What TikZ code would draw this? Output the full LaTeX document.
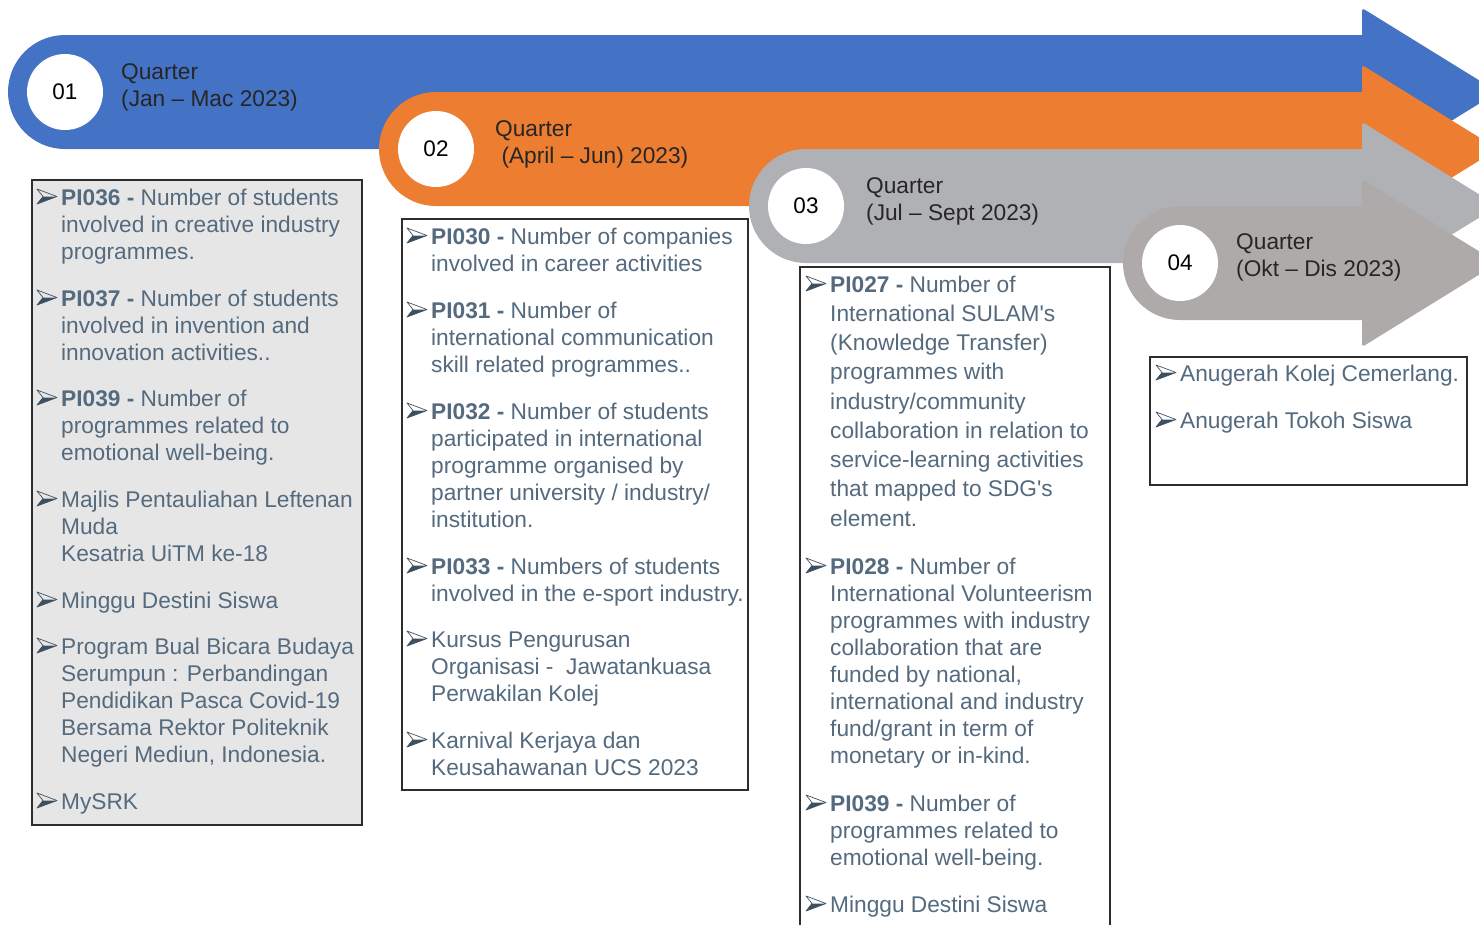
\documentclass[tikz,border=0pt]{standalone}
\usepackage{fontspec}
\setmainfont{Liberation Sans}
\definecolor{qblue}{RGB}{68,114,196}
\definecolor{qorange}{RGB}{237,125,49}
\definecolor{qgrayA}{RGB}{176,177,181}
\definecolor{qgrayB}{RGB}{174,170,169}
\definecolor{itemc}{RGB}{84,106,126}
\definecolor{bulc}{RGB}{62,80,96}
\definecolor{titlec}{RGB}{38,38,38}
\definecolor{boxfill}{RGB}{231,230,230}
\definecolor{boxline}{RGB}{45,45,45}
\newcommand{\ml}[1]{\begin{tabular}[t]{@{}l@{}}#1\end{tabular}}
\newcommand{\apos}{\textquotesingle}
\newcommand{\bulshape}[2]{% x, baseline
  \fill[bulc] (#1+6,#2-8.5) -- (#1+20,#2-8.5) -- (#1,#2-1) -- cycle;
  \draw[bulc,line width=0.7pt,line join=round] (#1+20,#2-8.5) -- (#1,#2-16) -- (#1+6,#2-8.5) -- (#1,#2-1) -- cycle;}
\newcommand{\bitem}[5]{% name, bulletx, textx, y, text
  \bulshape{#2}{#4}
  \node[itm] (#1) at (#3,#4) {\ml{#5}};}
\newcommand{\qarrow}[4]{% name, color, cx, cy
  \fill[#2] (#3,#4-57) -- (1362,#4-57)
    [rounded corners=3pt] -- (1362,#4-84) -- (1498,#4) -- (1362,#4+84)
    [sharp corners] -- (1362,#4+57) -- (#3,#4+57)
    arc[start angle=90,end angle=270,radius=57] -- cycle;
  \node[qcirc] (#1) at (#3,#4) {};}
\tikzset{
  qcirc/.style={circle,fill=white,minimum size=76pt,inner sep=0pt},
  qnum/.style={font=\fontsize{22.5}{26}\selectfont,text=black},
  qtitle/.style={anchor=base west,inner sep=0pt,text=titlec,font=\fontsize{22.7}{27}\selectfont},
  itm/.style={anchor=base west,inner sep=0pt,text=itemc,font=\fontsize{22.7}{27}\selectfont},
  itmwide/.style={itm,font=\fontsize{22.7}{29.25}\selectfont},
  kpibox/.style={draw=boxline,line width=2pt},
}
\begin{document}
\begin{tikzpicture}[x=1pt,y=-1pt]
\useasboundingbox (0,0) rectangle (1479,924);
\clip (0,0) rectangle (1479,924);
% arrows
\qarrow{c1}{qblue}{65}{92}
\qarrow{c2}{qorange}{436}{149}
\qarrow{c3}{qgrayA}{806}{206}
\qarrow{c4}{qgrayB}{1180}{263}
\node[qnum] (n1) at (c1) {01};
\node[qnum] (n2) at (c2) {02};
\node[qnum] (n3) at (c3) {03};
\node[qnum] (n4) at (c4) {04};
\node[qtitle] (t1) at (121,79) {\ml{Quarter\\(Jan – Mac 2023)}};
\node[qtitle] (t2) at (495,136) {\ml{Quarter\\\ (April – Jun) 2023)}};
\node[qtitle] (t3) at (866,193) {\ml{Quarter\\(Jul – Sept 2023)}};
\node[qtitle] (t4) at (1236,249) {\ml{Quarter\\(Okt – Dis 2023)}};
% boxes
\draw[kpibox,fill=boxfill] (32,180) rectangle (362,825);
\draw[kpibox,fill=white] (402,219) rectangle (748,790);
\draw[kpibox,fill=white] (800,267) rectangle (1110,940);
\draw[kpibox,fill=white] (1150,357) rectangle (1467,485);
% box 1
\bitem{a1}{37}{61}{205}{\textbf{PI036 -} Number of students\\involved in creative industry\\programmes.}
\bitem{a2}{37}{61}{306}{\textbf{PI037 -} Number of students\\involved in invention and\\innovation activities..}
\bitem{a3}{37}{61}{406}{\textbf{PI039 -} Number of\\programmes related to\\emotional well-being.}
\bitem{a4}{37}{61}{507}{Majlis Pentauliahan Leftenan\\Muda\\Kesatria UiTM ke-18}
\bitem{a5}{37}{61}{608}{Minggu Destini Siswa}
\bitem{a6}{37}{61}{654}{Program Bual Bicara Budaya\\Serumpun : Perbandingan\\Pendidikan Pasca Covid-19\\Bersama Rektor Politeknik\\Negeri Mediun, Indonesia.}
\bitem{a7}{37}{61}{809}{MySRK}
% box 2
\bitem{b1}{407}{431}{244}{\textbf{PI030 -} Number of companies\\involved in career activities}
\bitem{b2}{407}{431}{318}{\textbf{PI031 -} Number of\\international communication\\skill related programmes..}
\bitem{b3}{407}{431}{419}{\textbf{PI032 -} Number of students\\participated in international\\programme organised by\\partner university / industry/\\institution.}
\bitem{b4}{407}{431}{574}{\textbf{PI033 -} Numbers of students\\involved in the e-sport industry.}
\bitem{b5}{407}{431}{647}{Kursus Pengurusan\\Organisasi -\ \ Jawatankuasa\\Perwakilan Kolej}
\bitem{b6}{407}{431}{748}{Karnival Kerjaya dan\\Keusahawanan UCS 2023}
% box 3
\bulshape{806}{292}
\node[itmwide] (cc1) at (830,292) {\ml{\textbf{PI027 -} Number of\\International SULAM\apos s\\(Knowledge Transfer)\\programmes with\\industry/community\\collaboration in relation to\\service-learning activities\\that mapped to SDG\apos s\\element.}};
\bitem{cc2}{806}{830}{574}{\textbf{PI028 -} Number of\\International Volunteerism\\programmes with industry\\collaboration that are\\funded by national,\\international and industry\\fund/grant in term of\\monetary or in-kind.}
\bitem{cc3}{806}{830}{811}{\textbf{PI039 -} Number of\\programmes related to\\emotional well-being.}
\bitem{cc4}{806}{830}{912}{Minggu Destini Siswa}
% box 4
\bitem{d1}{1156}{1180}{381}{Anugerah Kolej Cemerlang.}
\bitem{d2}{1156}{1180}{428}{Anugerah Tokoh Siswa}
\end{tikzpicture}
\end{document}
